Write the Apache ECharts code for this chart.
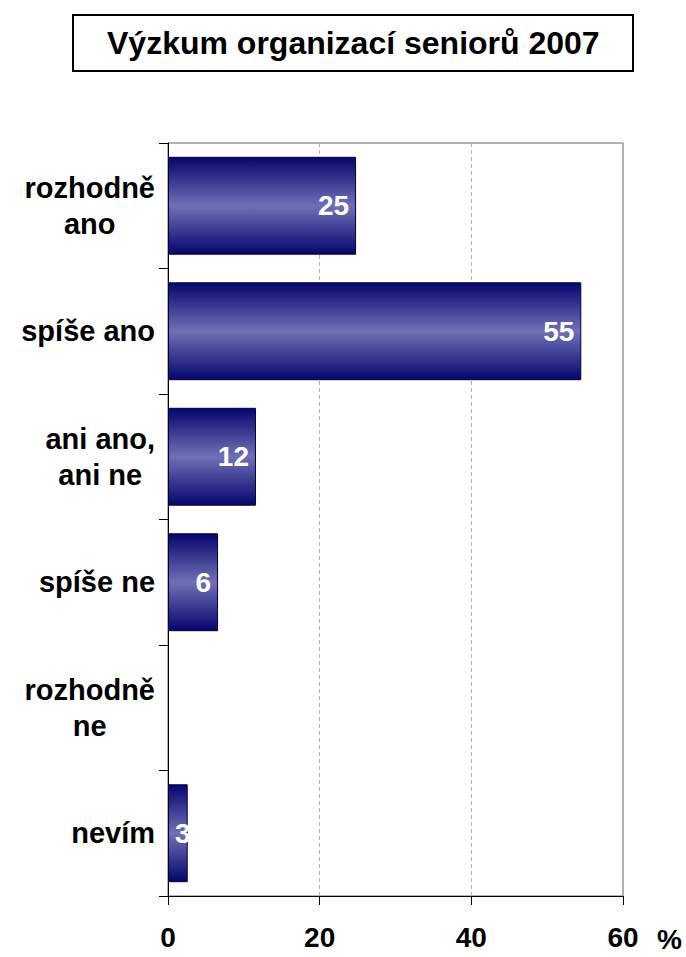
<!DOCTYPE html>
<html>
<head>
<meta charset="utf-8">
<script src="https://cdn.jsdelivr.net/npm/echarts@6/dist/echarts.min.js"></script>
<style>
html,body{margin:0;padding:0;background:#fff;}
#chart{width:686px;height:957px;}
</style>
</head>
<body>
<div id="chart"></div>
<script>
var titleText = 'Výzkum organizací seniorů 2007';
var categories = ['rozhodně\nano', 'spíše ano', 'ani ano,\nani ne', 'spíše ne', 'rozhodně\nne', 'nevím'];
var values = [24.8, 54.5, 11.6, 6.6, 0, 2.6];
var valueLabels = ['25', '55', '12', '6', '', '3'];
var xTicks = [0, 20, 40, 60];
var unitLabel = '%';

var FONT = '"Liberation Sans", Arial, sans-serif';
var chart = echarts.init(document.getElementById('chart'), null, {renderer: 'svg'});

var barColor = new echarts.graphic.LinearGradient(0, 0, 0, 1, [
  {offset: 0, color: '#05056e'},
  {offset: 0.5, color: '#7070b6'},
  {offset: 1, color: '#05056e'}
]);

var seriesData = values.map(function (v) {
  var item = {value: v};
  if (v === 0) { item.itemStyle = {borderWidth: 0}; }
  if (v > 0 && v < 4) { item.label = {position: 'insideLeft', distance: 7}; }
  return item;
});

chart.setOption({
  animation: false,
  backgroundColor: '#ffffff',
  title: {
    text: titleText,
    left: 73,
    top: 15,
    padding: [12, 34],
    borderColor: '#000',
    borderWidth: 2,
    textStyle: {fontFamily: FONT, fontSize: 32, fontWeight: 'bold', color: '#000', lineHeight: 32}
  },
  grid: {
    left: 168, right: 63, top: 143, bottom: 61,
    show: true, borderColor: '#666', borderWidth: 1, backgroundColor: 'transparent'
  },
  xAxis: {
    type: 'value',
    min: xTicks[0],
    max: xTicks[xTicks.length - 1],
    interval: xTicks[1] - xTicks[0],
    axisLine: {show: true, lineStyle: {color: '#000', width: 1}},
    axisTick: {show: true, inside: false, length: 9, lineStyle: {color: '#000'}},
    splitLine: {show: true, lineStyle: {color: '#b0b0b0', type: [4, 3], width: 1}},
    axisLabel: {
      margin: 27, fontFamily: FONT, fontSize: 28, fontWeight: 'bold', color: '#000', lineHeight: 28
    },
    name: unitLabel,
    nameLocation: 'end',
    nameGap: 34,
    nameTextStyle: {
      fontFamily: FONT, fontSize: 28, fontWeight: 'bold', color: '#000', lineHeight: 28,
      align: 'left', verticalAlign: 'top', padding: [29, 0, 0, 0]
    }
  },
  yAxis: {
    type: 'category',
    inverse: true,
    data: categories,
    axisLine: {show: true, lineStyle: {color: '#000', width: 1}},
    axisTick: {show: true, inside: false, length: 9, alignWithLabel: false, lineStyle: {color: '#000'}},
    splitLine: {show: false},
    axisLabel: {
      margin: 13,
      align: 'right',
      formatter: function (v) {
        return v.split('\n').map(function (s) { return '{c|' + s + '}'; }).join('\n');
      },
      rich: {
        c: {align: 'center', fontFamily: FONT, fontSize: 29, fontWeight: 'bold', color: '#000', lineHeight: 36}
      }
    }
  },
  series: [{
    type: 'bar',
    data: seriesData,
    barCategoryGap: '22%',
    itemStyle: {color: barColor, borderColor: '#00003c', borderWidth: 1},
    label: {
      show: true,
      position: 'insideRight',
      distance: 7,
      formatter: function (p) { return valueLabels[p.dataIndex]; },
      fontFamily: FONT, fontSize: 28, fontWeight: 'bold', color: '#fff'
    }
  }]
});
</script>
</body>
</html>
